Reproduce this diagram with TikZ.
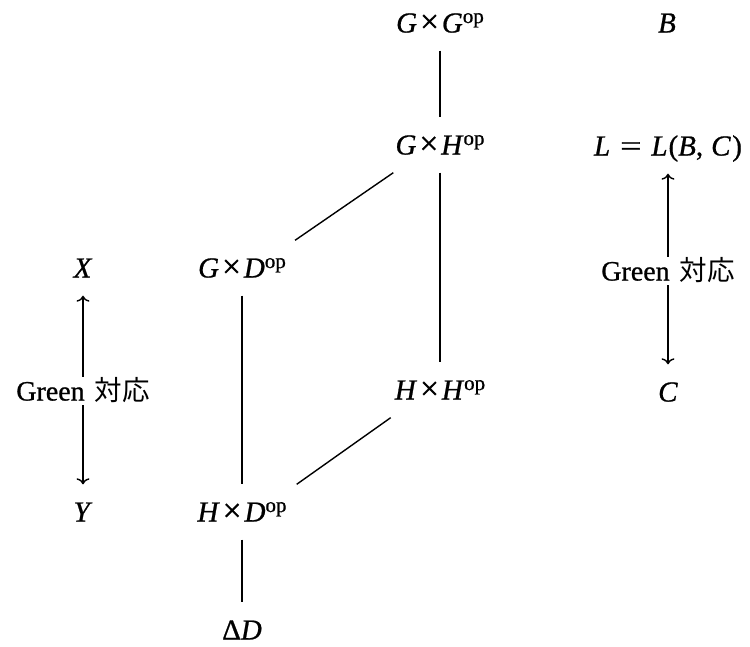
\documentclass[tikz,border=0pt]{standalone}
\usepackage{fontspec}
\usepackage{graphicx}
\setmainfont{Liberation Serif}[UprightFeatures={FakeBold=0.8},ItalicFeatures={FakeBold=0.8}]
\newfontfamily\jpfont{Noto Sans CJK JP}
\usetikzlibrary{arrows.meta}
\newcommand{\opsup}{\raisebox{9.5pt}{\fontsize{21}{21}\selectfont op}}
\newcommand{\tms}{\hspace{3pt}\scalebox{1.15}{×}\hspace{3pt}}
\newcommand{\mv}[1]{\textit{#1}}
\newcommand{\grn}{Green\hspace{10pt}{\jpfont\fontsize{27.5}{30}\selectfont 対応}}
\begin{document}
\begin{tikzpicture}[x=1pt,y=-1pt,
  obj/.style={inner xsep=0pt, inner ysep=17.5pt, text height=19.5pt, text depth=0.5pt, font=\fontsize{29}{30}\selectfont},
  lab/.style={inner xsep=0pt, inner ysep=4pt, text height=19.5pt, text depth=0.5pt, font=\fontsize{28}{30}\selectfont},
  conn/.style={line width=1.4pt},
  arr/.style={line width=1.4pt, -{Computer Modern Rightarrow[length=6pt,width=13pt]}}
]
\useasboundingbox (0,0) rectangle (750,646);
\fill[white] (0,0) rectangle (750,646);

\node[obj] (ggop) at (440,23) {\mv{G}\tms\mv{G}\opsup};
\node[obj] (B) at (667,23) {\mv{B}};
\node[obj] (ghop) at (440,145) {\mv{G}\tms\mv{H}\opsup};
\node[obj] (L) at (668,146) {\mv{L}\hspace{10pt}\scalebox{1.3}[1]{=}\hspace{10pt}\mv{L}\hspace{1pt}(\mv{B},\hspace{8pt}\mv{C}\hspace{1.5pt})};
\node[obj] (X) at (83,268) {\mv{X}};
\node[obj] (gdop) at (242,268) {\mv{G}\tms\mv{D}\opsup};
\node[lab] (lab2) at (668,271) {\grn};
\node[lab] (lab1) at (83,391) {\grn};
\node[obj] (hhop) at (440,390) {\mv{H}\tms\mv{H}\opsup};
\node[obj] (C) at (668,392) {\mv{C}};
\node[obj] (Y) at (83,512) {\mv{Y}};
\node[obj] (hdop) at (242,512) {\mv{H}\tms\mv{D}\opsup};
\node[obj] (dD) at (242,630) {Δ\mv{D}};

\draw[conn] (ggop) -- (ghop);
\draw[conn] (ghop) -- (hhop);
\draw[conn] (gdop) -- (hdop);
\draw[conn] (hdop) -- (dD);
\draw[conn] ([xshift=-2pt]ghop.south west) -- ([xshift=9pt]gdop.north east);
\draw[conn] ([xshift=-4pt]hhop.south west) -- ([xshift=10pt]hdop.north east);

\draw[arr] (lab1) -- (X);
\draw[arr] (lab1) -- (Y);
\draw[arr] (lab2) -- (L);
\draw[arr] (lab2) -- (C);
\end{tikzpicture}
\end{document}
